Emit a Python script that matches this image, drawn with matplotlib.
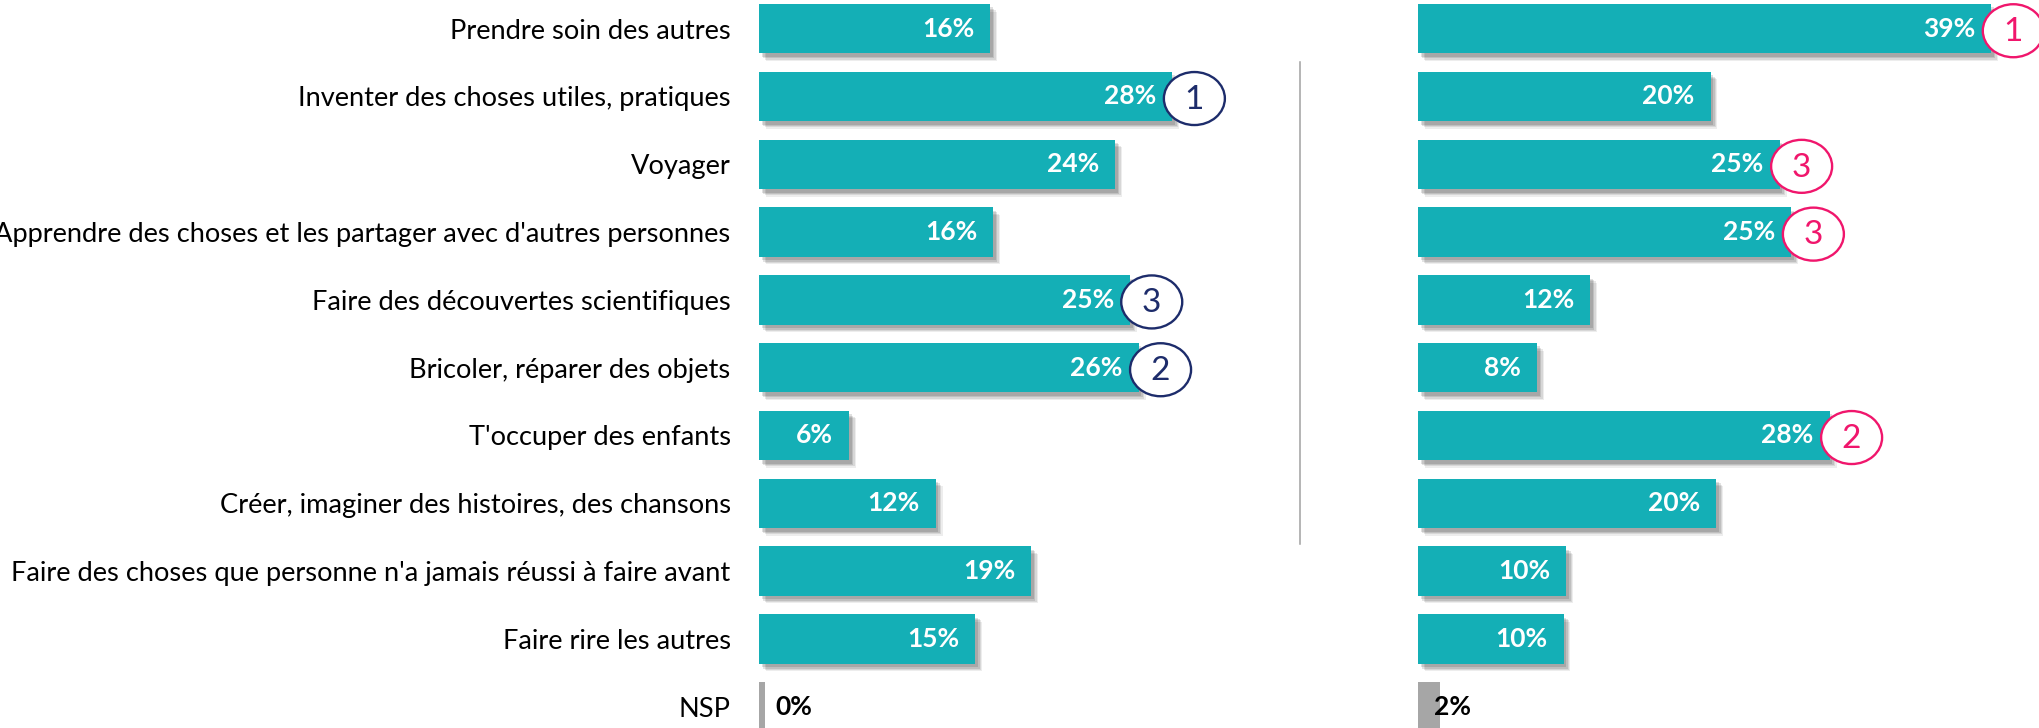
import matplotlib
matplotlib.use("Agg")
import matplotlib.pyplot as plt
import matplotlib.patheffects as pe
from matplotlib.patches import Ellipse

categories = [
    "Prendre soin des autres",
    "Inventer des choses utiles, pratiques",
    "Voyager",
    "Apprendre des choses et les partager avec d'autres personnes",
    "Faire des découvertes scientifiques",
    "Bricoler, réparer des objets",
    "T'occuper des enfants",
    "Créer, imaginer des histoires, des chansons",
    "Faire des choses que personne n'a jamais réussi à faire avant",
    "Faire rire les autres",
    "NSP",
]
left_values = [15.7, 28.1, 24.2, 15.9, 25.2, 25.8, 6.1, 12.0, 18.5, 14.7, 0.4]
left_labels = ["16%", "28%", "24%", "16%", "25%", "26%", "6%", "12%", "19%", "15%", "0%"]
left_ranks = [None, 1, None, None, 3, 2, None, None, None, None, None]

right_values = [39.0, 19.9, 24.6, 25.4, 11.7, 8.1, 28.0, 20.3, 10.1, 9.9, 1.5]
right_labels = ["39%", "20%", "25%", "25%", "12%", "8%", "28%", "20%", "10%", "10%", "2%"]
right_ranks = [1, None, 3, 3, None, None, 2, None, None, None, None]

TEAL = "#14AFB6"
GREY = "#A6A6A6"
NAVY = "#1D2C6B"
PINK = "#F0166C"
FONT = "Lato"

W, H = 2039, 728
PX_PER_PCT = 14.7
ROW0, ROW_STEP = 28.7, 67.8

fig = plt.figure(figsize=(W / 100, H / 100), dpi=100)

y_top = -ROW0 / ROW_STEP
y_bot = (H - ROW0) / ROW_STEP

def make_axes(x0_px):
    width_px = W - x0_px
    ax = fig.add_axes([x0_px / W, 0, width_px / W, 1])
    ax.set_xlim(0, width_px / PX_PER_PCT)
    ax.set_ylim(y_bot, y_top)
    for s in ax.spines.values():
        s.set_visible(False)
    ax.set_xticks([])
    ax.patch.set_alpha(0)
    return ax

shadow = [
    pe.SimplePatchShadow(offset=(5, -5.5), shadow_rgbFace="#000000", alpha=0.07),
    pe.SimplePatchShadow(offset=(4, -4.5), shadow_rgbFace="#000000", alpha=0.09),
    pe.SimplePatchShadow(offset=(3, -3.5), shadow_rgbFace="#000000", alpha=0.11),
    pe.SimplePatchShadow(offset=(2, -2.5), shadow_rgbFace="#000000", alpha=0.12),
    pe.Normal(),
]

def draw_panel(ax, values, labels, ranks, ring_color):
    ypos = list(range(len(values)))
    colors = [TEAL] * (len(values) - 1) + [GREY]
    bars = ax.barh(ypos, values, height=0.73, color=colors, zorder=2)
    for b in bars[:-1]:
        b.set_path_effects(shadow)
    for i, (v, lab) in enumerate(zip(values, labels)):
        if i == len(values) - 1:
            ax.annotate(lab, (0, i), xytext=(11.5, 0), textcoords="offset points",
                        ha="left", va="center", color="black", fontsize=19,
                        fontweight="bold", family=FONT, zorder=4)
        else:
            ax.annotate(lab, (v, i), xytext=(-11.5, 0), textcoords="offset points",
                        ha="right", va="center", color="white", fontsize=19,
                        fontweight="bold", family=FONT, zorder=4)
    for i, (v, r) in enumerate(zip(values, ranks)):
        if r is None:
            continue
        cx = v + 22 / PX_PER_PCT
        ell = Ellipse((cx, i + 0.03), 61 / PX_PER_PCT, 53 / ROW_STEP,
                      facecolor="white", edgecolor=ring_color, lw=1.7,
                      zorder=3, clip_on=False)
        ax.add_patch(ell)
        ax.text(cx, i + 0.05, str(r), ha="center", va="center", color=ring_color,
                fontsize=24, family=FONT, zorder=5, clip_on=False)

ax1 = make_axes(759.3)
draw_panel(ax1, left_values, left_labels, left_ranks, NAVY)
ax1.set_yticks(range(len(categories)))
ax1.set_yticklabels(categories, fontsize=19.6, family=FONT, color="black")
ax1.tick_params(axis="y", length=0, pad=20.6)

ax2 = make_axes(1418)
draw_panel(ax2, right_values, right_labels, right_ranks, PINK)
ax2.set_yticks([])

# separator between the two panels
fig.add_artist(plt.Line2D([1300 / W, 1300 / W], [1 - 62 / H, 1 - 544 / H],
                          color="#A0A0A0", lw=1.1))

fig.savefig("out.png", dpi=100)
